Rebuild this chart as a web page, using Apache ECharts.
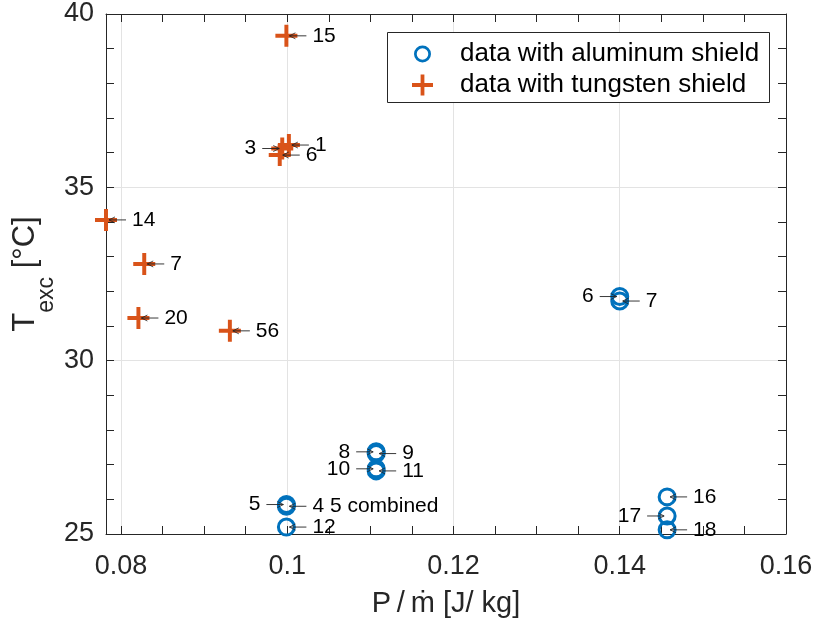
<!DOCTYPE html>
<html>
<head>
<meta charset="utf-8">
<script src="https://cdn.jsdelivr.net/npm/echarts@6/dist/echarts.min.js"></script>
<style>html,body{margin:0;padding:0;background:#fff}#c{width:817px;height:621px}</style>
</head>
<body>
<div id="c"></div>
<script>
// ---- data ----
const aluminumX = [0.1400, 0.1400, 0.1107, 0.1107, 0.1107, 0.1107, 0.0999, 0.0999, 0.0999, 0.1457, 0.1457, 0.1457];
const aluminumY = [31.85, 31.72, 27.37, 27.32, 26.88, 26.82, 25.85, 25.80, 25.20, 26.07, 25.52, 25.12];
const aluminumLabels = ['6', '7', '8', '9', '10', '11', '5', '4 5 combined', '12', '16', '17', '18'];
const aluminumSide = ['left', 'right', 'left', 'right', 'left', 'right', 'left', 'right', 'right', 'right', 'left', 'right'];

const tungstenX = [0.0999, 0.1002, 0.0994, 0.0991, 0.0782, 0.0828, 0.0821, 0.0931];
const tungstenY = [39.37, 36.22, 36.12, 35.93, 34.06, 32.79, 31.23, 30.86];
const tungstenLabels = ['15', '1', '3', '6', '14', '7', '20', '56'];
const tungstenSide = ['right', 'right', 'left', 'right', 'right', 'right', 'right', 'right'];

const xMajorTicks = [0.08, 0.10, 0.12, 0.14, 0.16];
const xMinorTicks = [0.08, 0.085, 0.09, 0.095, 0.10, 0.105, 0.11, 0.115, 0.12, 0.125, 0.13, 0.135, 0.14, 0.145, 0.15, 0.155, 0.16];
const seriesNames = ['data with aluminum shield', 'data with tungsten shield'];

// ---- chart ----
const FONT = 'Liberation Sans, Arial, Helvetica, sans-serif';
const AX = '#262626';
const BLUE = '#0072BD';
const ORANGE = '#D95319';
const PLUS = 'path://M8.2,0H11.8V8.2H20V11.8H11.8V20H8.2V11.8H0V8.2H8.2Z';
const RING = 'path://M0,10A10,10 0 1,0 20,10A10,10 0 1,0 0,10Z M3.2,10A6.8,6.8 0 1,1 16.8,10A6.8,6.8 0 1,1 3.2,10Z';

function zip(a, b) { return a.map((v, i) => [v, b[i]]); }

function annoRenderer(labels, sides) {
  return function (params, api) {
    const p = api.coord([api.value(0), api.value(1)]);
    const s = sides[params.dataIndex] === 'left' ? -1 : 1;
    const tip = p[0] + s * 3, tail = p[0] + s * 20, y = p[1];
    return {
      type: 'group',
      children: [
        { type: 'line', shape: { x1: tail, y1: y, x2: tip, y2: y }, style: { stroke: '#222', lineWidth: 0.9 } },
        { type: 'polyline', shape: { points: [[tip + s * 6, y - 3], [tip, y], [tip + s * 6, y + 3]] }, style: { stroke: '#222', fill: null, lineWidth: 0.8 } },
        { type: 'text', x: p[0] + s * 26, y: y, style: { text: labels[params.dataIndex], fontFamily: FONT, fontSize: 21, fill: '#000', align: s < 0 ? 'right' : 'left', verticalAlign: 'middle' } }
      ]
    };
  };
}

const xBase = { type: 'value', min: 0.0782, max: 0.16, scale: true };
const chart = echarts.init(document.getElementById('c'), null, { renderer: 'canvas' });
chart.setOption({
  animation: false,
  backgroundColor: '#fff',
  grid: { left: 106, right: 31, top: 14, bottom: 87, containLabel: false, outerBoundsMode: 'none' },
  xAxis: [
    Object.assign({}, xBase, {
      position: 'bottom',
      name: 'P\u2009/\u2009ṁ [J/ kg]', nameLocation: 'middle', nameGap: 55, nameMoveOverlap: false,
      nameTextStyle: { fontFamily: FONT, fontSize: 29, color: AX },
      axisLine: { show: true, onZero: false, lineStyle: { color: AX, width: 1 } },
      axisTick: { show: true, inside: true, length: 8, customValues: xMinorTicks, lineStyle: { color: AX } },
      axisLabel: { show: true, customValues: xMajorTicks, fontFamily: FONT, fontSize: 27, color: AX, margin: 19 },
      splitLine: { show: false }
    }),
    Object.assign({}, xBase, {
      position: 'top',
      axisLine: { show: true, onZero: false, lineStyle: { color: AX, width: 1 } },
      axisTick: { show: true, inside: true, length: 8, customValues: xMinorTicks, lineStyle: { color: AX } },
      axisLabel: { show: false },
      splitLine: { show: false }
    }),
    Object.assign({}, xBase, {
      position: 'bottom',
      axisLine: { show: false },
      axisTick: { show: false, customValues: xMajorTicks },
      axisLabel: { show: false },
      splitLine: { show: true, lineStyle: { color: '#e3e3e3', width: 1 } }
    })
  ],
  yAxis: [
    {
      type: 'value', min: 25, max: 40, interval: 5, position: 'left',
      name: '{a|T}{b|exc}{a| [°C]}', nameLocation: 'middle', nameGap: 48, nameRotate: 90, nameMoveOverlap: false,
      nameTextStyle: {
        rich: {
          a: { fontFamily: FONT, fontSize: 31, color: AX, lineHeight: 66, verticalAlign: 'middle' },
          b: { fontFamily: FONT, fontSize: 23, color: AX, lineHeight: 66, verticalAlign: 'bottom' }
        }
      },
      axisLine: { show: true, onZero: false, lineStyle: { color: AX, width: 1 } },
      axisTick: { show: true, inside: true, length: 8, lineStyle: { color: AX } },
      minorTick: { show: true, splitNumber: 5, length: 8, lineStyle: { color: AX } },
      axisLabel: { fontFamily: FONT, fontSize: 27, color: AX, margin: 12 },
      splitLine: { show: true, lineStyle: { color: '#e3e3e3', width: 1 } }
    },
    {
      type: 'value', min: 25, max: 40, interval: 5, position: 'right',
      axisLine: { show: true, onZero: false, lineStyle: { color: AX, width: 1 } },
      axisTick: { show: true, inside: true, length: 8, lineStyle: { color: AX } },
      minorTick: { show: true, splitNumber: 5, length: 8, lineStyle: { color: AX } },
      axisLabel: { show: false },
      splitLine: { show: false }
    }
  ],
  graphic: [
    { type: 'rect', left: 387, top: 32, z: 3, shape: { width: 382, height: 70 }, style: { fill: '#fff', stroke: AX, lineWidth: 1 } }
  ],
  legend: [
    {
      data: [seriesNames[0]], left: 414, top: 39, orient: 'vertical', padding: 0, z: 5,
      itemWidth: 17, itemHeight: 17, selectedMode: false,
      textStyle: { fontFamily: FONT, fontSize: 26, color: '#000', lineHeight: 30, padding: [0, 0, 0, 24] }
    },
    {
      data: [seriesNames[1]], left: 412, top: 70, orient: 'vertical', padding: 0, z: 5,
      itemWidth: 21, itemHeight: 21, selectedMode: false,
      textStyle: { fontFamily: FONT, fontSize: 26, color: '#000', lineHeight: 30, padding: [0, 0, 0, 22] }
    }
  ],
  series: [
    {
      name: seriesNames[0], type: 'scatter', xAxisIndex: 0, yAxisIndex: 0, clip: false,
      symbol: RING, symbolSize: 19, z: 3,
      itemStyle: { color: BLUE, opacity: 1 },
      emphasis: { disabled: true },
      data: zip(aluminumX, aluminumY)
    },
    {
      name: seriesNames[1], type: 'scatter', xAxisIndex: 0, yAxisIndex: 0, clip: false,
      symbol: PLUS, symbolSize: 22, z: 3,
      itemStyle: { color: ORANGE, opacity: 1 },
      emphasis: { disabled: true },
      data: zip(tungstenX, tungstenY)
    },
    {
      type: 'custom', xAxisIndex: 0, yAxisIndex: 0, z: 6, clip: false, silent: true,
      renderItem: annoRenderer(aluminumLabels, aluminumSide),
      encode: { x: 0, y: 1 },
      data: zip(aluminumX, aluminumY)
    },
    {
      type: 'custom', xAxisIndex: 0, yAxisIndex: 0, z: 6, clip: false, silent: true,
      renderItem: annoRenderer(tungstenLabels, tungstenSide),
      encode: { x: 0, y: 1 },
      data: zip(tungstenX, tungstenY)
    }
  ]
});
</script>
</body>
</html>
